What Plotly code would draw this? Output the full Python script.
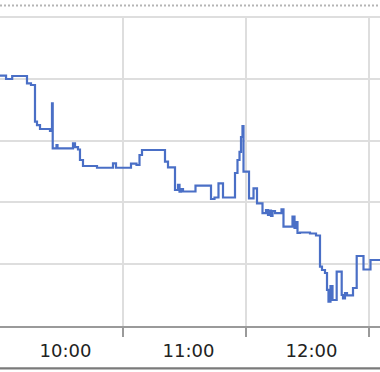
import plotly.graph_objects as go

DAY = "2024-01-02 "

# time of each change (hh:mm:ss) and the value that holds from that time on
times = [
    "09:28:03", "09:31:00", "09:34:00", "09:41:13", "09:43:10", "09:45:07",
    "09:46:06", "09:47:34", "09:52:26", "09:53:25", "09:53:46", "09:55:37",
    "09:56:06", "10:03:40", "10:04:38", "10:06:06", "10:07:04", "10:08:32",
    "10:15:22", "10:23:10", "10:24:38", "10:31:57", "10:34:38", "10:36:06",
    "10:37:19", "10:48:32", "10:50:00", "10:53:25", "10:54:53", "10:55:37",
    "10:56:20", "10:57:19", "11:03:25", "11:10:59", "11:12:41", "11:14:38",
    "11:16:50", "11:22:41", "11:23:54", "11:24:53", "11:25:37", "11:26:20",
    "11:26:50", "11:29:31", "11:31:43", "11:33:25", "11:36:06", "11:37:48",
    "11:38:47", "11:39:31", "11:40:15", "11:40:59", "11:42:12", "11:45:22",
    "11:46:20", "11:50:44", "11:51:43", "11:52:26", "11:53:10", "11:54:23",
    "11:59:16", "12:02:12", "12:04:09", "12:05:07", "12:06:35", "12:07:34",
    "12:08:17", "12:09:16", "12:10:15", "12:12:17", "12:14:44", "12:15:22",
    "12:16:20", "12:17:19", "12:20:15", "12:22:03", "12:25:22", "12:28:47",
    "12:33:25",
]
values = [
    40.50, 39.97, 40.45, 39.27, 39.00, 33.06,
    32.52, 31.88, 31.55, 36.04, 28.75, 29.29,
    28.75, 29.56, 28.96, 28.56, 26.86, 25.89,
    25.61, 26.33, 25.61, 26.29, 26.05, 27.67,
    28.48, 26.59, 25.68, 22.01, 22.82, 21.73,
    22.17, 21.76, 22.73, 20.55, 20.79, 23.09,
    20.79, 24.76, 26.86, 28.16, 30.58, 32.36,
    24.97, 20.66, 22.28, 19.85, 18.28, 18.77,
    17.96, 18.69, 17.80, 18.61, 18.28, 18.88,
    16.07, 17.69, 15.86, 16.83, 15.05, 15.13,
    14.97, 14.64, 9.60, 9.06, 8.58, 5.83,
    3.93, 6.47, 4.21, 8.79, 5.02, 4.48,
    5.34, 4.94, 6.15, 11.33, 9.14, 10.68,
    10.68,
]

tick_times = ["10:00", "11:00", "12:00"]
tick_labels = ["10:00", "11:00", "12:00"]
grid_start = "10:28"
x_start, x_end = "09:28:03", "12:33:25"
y_min, y_max, y_step = 0, 50, 10

fig = go.Figure()
fig.add_trace(go.Scatter(
    x=[DAY + t for t in times], y=values, mode="lines",
    line=dict(color="#4a6fc6", width=2.2, shape="hv"),
    hoverinfo="skip", showlegend=False,
))

# plot region: top 17 px, axis at 326 px, outer frame line at 368 px
fig.update_layout(
    width=380, height=372,
    margin=dict(l=0, r=0, t=17, b=4),
    paper_bgcolor="white", plot_bgcolor="white",
    font=dict(family="DejaVu Sans", color="#222222"),
    xaxis=dict(
        type="date",
        range=[DAY + x_start, DAY + x_end],
        tickvals=[DAY + t for t in tick_times],
        ticktext=tick_labels,
        ticks="", showgrid=False, zeroline=False,
        showline=True, linecolor="#9a9a9a", linewidth=2,
        tickfont=dict(size=18, color="#222222", family="DejaVu Sans"),
        ticklabelstandoff=7,
        minor=dict(
            tick0=DAY + grid_start, dtick=3600000,
            showgrid=True, gridcolor="#dedede", gridwidth=2,
            ticks="outside", ticklen=9, tickcolor="#9a9a9a", tickwidth=2,
        ),
        fixedrange=True,
    ),
    yaxis=dict(
        domain=[42 / 351, 1],
        range=[y_min, y_max], dtick=y_step, tick0=0,
        showticklabels=False, ticks="", zeroline=False,
        showgrid=True, gridcolor="#dedede", gridwidth=2,
        fixedrange=True,
    ),
    shapes=[
        dict(type="line", xref="paper", yref="paper", x0=0, x1=1, y0=1, y1=1,
             line=dict(color="#dedede", width=2)),
        dict(type="line", xref="paper", yref="paper", x0=0, x1=1,
             y0=1.0328, y1=1.0328,
             line=dict(color="#b5b5b5", width=2, dash="2px,2px")),
        dict(type="rect", xref="paper", yref="paper", x0=0, x1=1,
             y0=-0.004, y1=0.002, layer="above",
             line=dict(width=0), fillcolor="#7a7a7a"),
    ],
)

fig.write_html("out.html", config={"displayModeBar": False, "staticPlot": True})
